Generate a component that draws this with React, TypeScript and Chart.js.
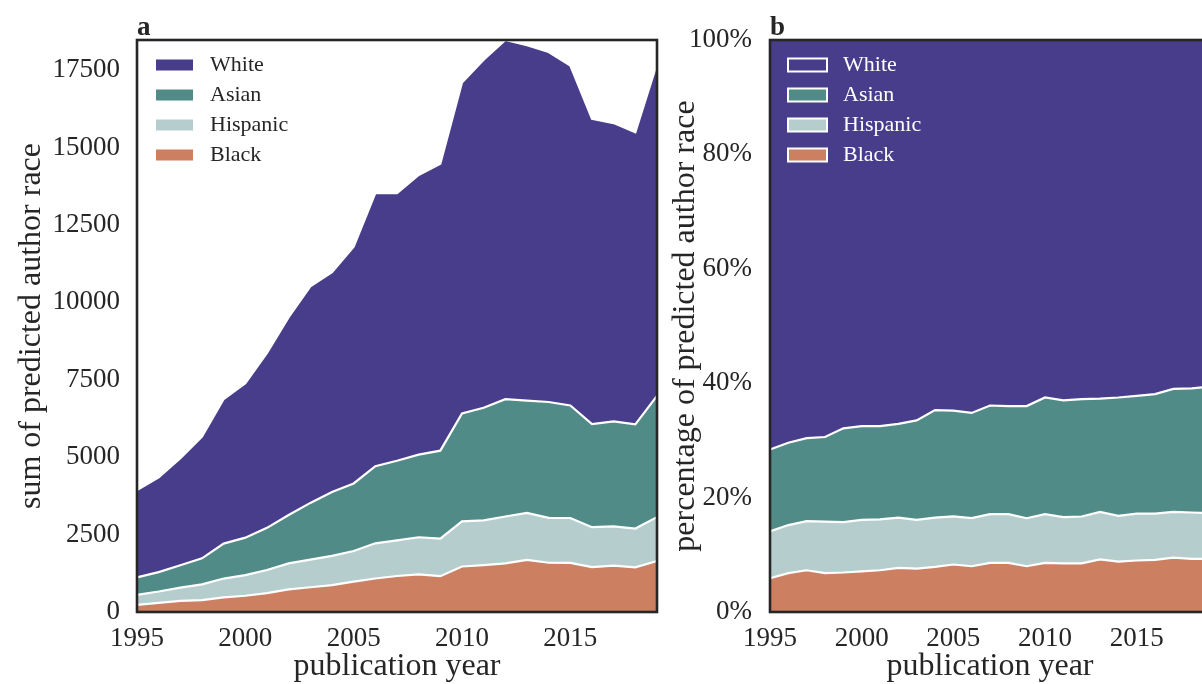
import React, { useEffect, useRef } from 'react';
import { Chart, registerables } from 'chart.js';

Chart.register(...registerables);

// ---- data ----
const years = [
  1995, 1996, 1997, 1998, 1999, 2000, 2001, 2002, 2003, 2004, 2005, 2006, 2007,
  2008, 2009, 2010, 2011, 2012, 2013, 2014, 2015, 2016, 2017, 2018, 2019,
];
const black = [232, 296, 362, 385, 475, 524, 610, 733, 799, 867, 979, 1082, 1163, 1214, 1158, 1470, 1516, 1570, 1684, 1591, 1588, 1450, 1500, 1441, 1647];
const hispanic = [323, 365, 427, 509, 605, 665, 745, 838, 894, 944, 991, 1136, 1149, 1199, 1215, 1454, 1444, 1514, 1519, 1447, 1447, 1290, 1263, 1254, 1417];
const asian = [564, 626, 720, 838, 1128, 1211, 1363, 1561, 1830, 2063, 2182, 2488, 2570, 2668, 2837, 3488, 3637, 3787, 3624, 3743, 3634, 3329, 3394, 3362, 3914];
const white = [2820, 3062, 3454, 3929, 4670, 4985, 5645, 6387, 6994, 7101, 7644, 8817, 8641, 9033, 9262, 10686, 11234, 11599, 11475, 11301, 10974, 9860, 9630, 9433, 10733];

const seriesNames = ['Black', 'Hispanic', 'Asian', 'White']; // bottom to top
const seriesData = [black, hispanic, asian, white];
const seriesColors = ['#cd7f62', '#b5cecd', '#518b88', '#483d8b'];

const legendNames = ['White', 'Asian', 'Hispanic', 'Black'];
const legendColors = ['#483d8b', '#518b88', '#b5cecd', '#cd7f62'];

const countTicks = [0, 2500, 5000, 7500, 10000, 12500, 15000, 17500];
const countMax = 18470;
const pctTicks = [0, 20, 40, 60, 80, 100];

const FONT = "'Liberation Serif', 'DejaVu Serif', serif";
const INK = '#262626';

const totals = years.map((_, i) => seriesData.reduce((s, arr) => s + arr[i], 0));
const pctData = seriesData.map((arr) => arr.map((v, i) => (v / totals[i]) * 100));

function makeDecor(label: string, dark: boolean) {
  return {
    id: 'decor',
    afterDraw(chart: any) {
      const { ctx, chartArea: ca } = chart;
      ctx.save();
      ctx.strokeStyle = INK;
      ctx.lineWidth = 2.6;
      ctx.strokeRect(ca.left, ca.top, ca.right - ca.left, ca.bottom - ca.top);
      ctx.fillStyle = INK;
      ctx.font = `bold 27px ${FONT}`;
      ctx.textAlign = 'left';
      ctx.textBaseline = 'alphabetic';
      ctx.fillText(label, ca.left, ca.top - 5);
      legendNames.forEach((name, i) => {
        const cy = ca.top + 25 + i * 30;
        ctx.fillStyle = legendColors[i];
        if (dark) {
          ctx.fillRect(ca.left + 18, cy - 6.5, 39, 13);
          ctx.strokeStyle = '#ffffff';
          ctx.lineWidth = 2;
          ctx.strokeRect(ca.left + 18, cy - 6.5, 39, 13);
        } else {
          ctx.fillRect(ca.left + 19, cy - 5.5, 37, 11);
        }
        ctx.fillStyle = dark ? '#ffffff' : INK;
        ctx.font = `22px ${FONT}`;
        ctx.textBaseline = 'middle';
        ctx.fillText(name, ca.left + 73, cy);
      });
      ctx.restore();
    },
  };
}

function buildConfig(kind: 'count' | 'pct'): any {
  const isPct = kind === 'pct';
  const data = isPct ? pctData : seriesData;
  return {
    type: 'line',
    data: {
      labels: years.map(String),
      datasets: data.map((arr, i) => ({
        label: seriesNames[i],
        data: arr,
        backgroundColor: seriesColors[i],
        borderColor: '#ffffff',
        borderWidth: 2.2,
        fill: i === 0 ? 'origin' : '-1',
        pointRadius: 0,
        tension: 0,
      })),
    },
    options: {
      animation: false,
      responsive: false,
      events: [],
      layout: { padding: { left: 0, top: 40, right: isPct ? 30 : 43, bottom: 0 } },
      plugins: { legend: { display: false }, tooltip: { enabled: false } },
      scales: {
        x: {
          grid: { display: false, drawTicks: false },
          border: { display: false },
          ticks: {
            autoSkip: false,
            maxRotation: 0,
            minRotation: 0,
            padding: 11,
            color: INK,
            font: { family: FONT, size: 27 },
            callback: (_v: any, i: number) => (years[i] % 5 === 0 ? String(years[i]) : null),
          },
          title: {
            display: true,
            text: 'publication year',
            color: INK,
            font: { family: FONT, size: 32, lineHeight: 1.1 },
            padding: { top: 0, bottom: 0 },
          },
          afterFit: (s: any) => {
            s.height = 72;
          },
        },
        y: {
          stacked: true,
          min: 0,
          max: isPct ? 100 : countMax,
          grid: { display: false, drawTicks: false },
          border: { display: false },
          afterBuildTicks: (s: any) => {
            s.ticks = (isPct ? pctTicks : countTicks).map((v) => ({ value: v }));
          },
          ticks: {
            padding: isPct ? 18 : 17,
            color: INK,
            font: { family: FONT, size: 27 },
            callback: (v: any) => (isPct ? `${v}%` : String(v)),
          },
          title: {
            display: true,
            text: isPct ? 'percentage of predicted author race' : 'sum of predicted author race',
            color: INK,
            font: { family: FONT, size: 32 },
            padding: { top: isPct ? 26 : 12, bottom: 0 },
          },
          afterFit: (s: any) => {
            s.width = isPct ? 130 : 137;
          },
        },
      },
    },
    plugins: [makeDecor(isPct ? 'b' : 'a', isPct)],
  };
}

export default function App() {
  const refA = useRef<HTMLCanvasElement | null>(null);
  const refB = useRef<HTMLCanvasElement | null>(null);

  useEffect(() => {
    const a = new Chart(refA.current as HTMLCanvasElement, buildConfig('count'));
    const b = new Chart(refB.current as HTMLCanvasElement, buildConfig('pct'));
    return () => {
      a.destroy();
      b.destroy();
    };
  }, []);

  return (
    <div
      style={{
        position: 'absolute',
        left: 0,
        top: 0,
        width: 1202,
        height: 684,
        overflow: 'hidden',
        background: '#ffffff',
      }}
    >
      <canvas
        ref={refA}
        width={700}
        height={684}
        style={{ position: 'absolute', left: 0, top: 0, width: 700, height: 684 }}
      />
      <canvas
        ref={refB}
        width={600}
        height={684}
        style={{ position: 'absolute', left: 640, top: 0, width: 600, height: 684 }}
      />
    </div>
  );
}
